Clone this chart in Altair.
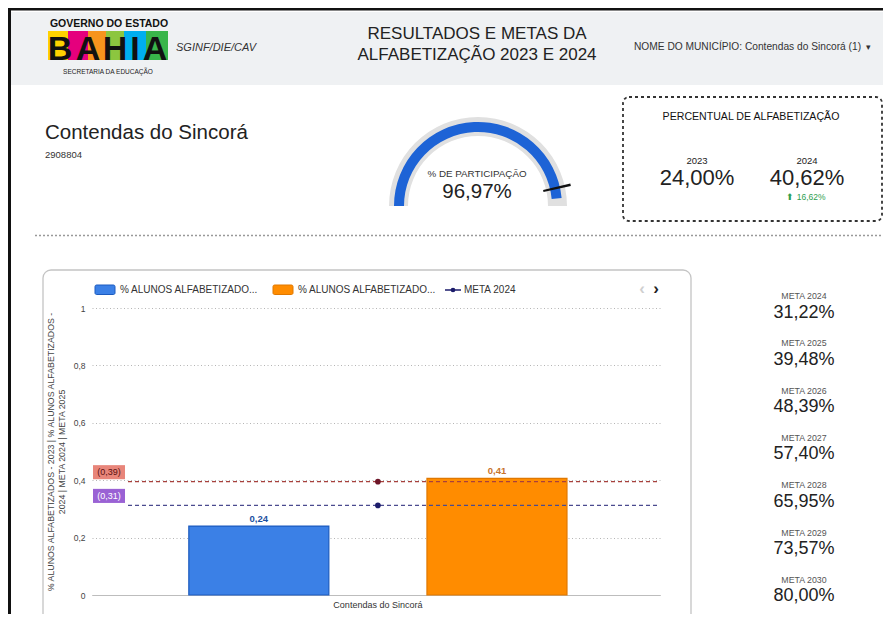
import altair as alt
import pandas as pd

FONT = "Liberation Sans"

# ---------------- data ----------------
municipio = "Contendas do Sincorá"
codigo_ibge = "2908804"
orgao = "SGINF/DIE/CAV"
titulo = ["RESULTADOS E METAS DA", "ALFABETIZAÇÃO 2023 E 2024"]
filtro = "NOME DO MUNICÍPIO: Contendas do Sincorá (1)"

series = ["% ALUNOS ALFABETIZADOS - 2023", "% ALUNOS ALFABETIZADOS - 2024"]
series_values = [0.24, 0.4062]
meta_series = ["META 2024", "META 2025"]
meta_series_values = [0.3122, 0.3948]

participacao = 96.97
participacao_marcador = 92.8

alfab_anos = ["2023", "2024"]
alfab_valores = [24.00, 40.62]

meta_anos = ["META 2024", "META 2025", "META 2026", "META 2027", "META 2028", "META 2029", "META 2030"]
meta_valores = [31.22, 39.48, 48.39, 57.40, 65.95, 73.57, 80.00]

y_ticks = [0.0, 0.1, 0.2, 0.3, 0.4, 0.5, 0.6, 0.7, 0.8, 0.9, 1.0]

# ---------------- style ----------------
BLUE, BLUE_D = "#3b80e6", "#1c5bbf"
ORANGE, ORANGE_D = "#ff8c00", "#e07800"
META_LINE = {"META 2024": "#4b4b8f", "META 2025": "#a8403c"}
META_DOT = {"META 2024": "#1c1c6b", "META 2025": "#6d1628"}
META_BOX = {"META 2024": "#9a62d4", "META 2025": "#e8857a"}
META_BOX_TXT = {"META 2024": "#ffffff", "META 2025": "#5a1010"}


def fmt(v, d=2):
    return f"{v:.{d}f}".replace(".", ",")


W, H = 568, 287
OX, OY = 92, 308


def X(p):
    return p - OX


def Y(p):
    return p - OY


one = pd.DataFrame({"k": [0]})


def txt(s, x, y, size, color="#222", weight="normal", align="center", style="normal", baseline="middle", font=FONT):
    return alt.Chart(one).mark_text(
        text=s, font=font, fontSize=size, color=color, fontWeight=weight,
        fontStyle=style, align=align, baseline=baseline
    ).encode(x=alt.value(X(x)), y=alt.value(Y(y)))


def box(x1, y1, x2, y2, fill="#ffffff", stroke=None, sw=1.0, dash=None, radius=0, filled=True):
    kw = dict(cornerRadius=radius)
    if filled:
        kw["fill"] = fill
    else:
        kw["fillOpacity"] = 0
    if stroke:
        kw["stroke"] = stroke
        kw["strokeWidth"] = sw
    if dash:
        kw["strokeDash"] = dash
    return alt.Chart(one).mark_rect(**kw).encode(
        x=alt.value(X(x1)), x2=alt.value(X(x2)), y=alt.value(Y(y1)), y2=alt.value(Y(y2))
    )


def hline(x1, x2, y, color, sw=1.0, dash=None):
    kw = dict(color=color, strokeWidth=sw)
    if dash:
        kw["strokeDash"] = dash
    return alt.Chart(one).mark_rule(**kw).encode(
        x=alt.value(X(x1)), x2=alt.value(X(x2)), y=alt.value(Y(y))
    )


def vline(x, y1, y2, color, sw=1.0):
    return alt.Chart(one).mark_rule(color=color, strokeWidth=sw).encode(
        x=alt.value(X(x)), y=alt.value(Y(y1)), y2=alt.value(Y(y2))
    )


layers = []

# ---------------- header ----------------
layers.append(box(10, 12, 891, 85, fill="#eff1f3"))
layers.append(hline(8, 891, 9, "#111", 3))
layers.append(vline(9.5, 8, 640, "#111", 3))

# logo
logo_cols = ["#ffd200", "#e5007d", "#f7941d", "#8cc63f", "#00aeef", "#39b54a"]
logo_x = [48, 68, 88, 106, 124, 146, 168]
for i, c in enumerate(logo_cols):
    layers.append(box(logo_x[i], 31, logo_x[i + 1], 60, fill=c))
layers.append(txt("GOVERNO DO ESTADO", 109, 23.5, 10.5, color="#111", weight="bold"))
logo_letters = ["B", "A", "H", "I", "A"]
logo_letter_x = [60, 88, 115, 135, 155]
for ch, lx in zip(logo_letters, logo_letter_x):
    layers.append(txt(ch, lx, 60, 34, color="#111", weight="bold", baseline="alphabetic"))
layers.append(txt("SECRETARIA DA EDUCAÇÃO", 108, 72, 6.5, color="#222"))
layers.append(txt(orgao, 176, 48, 11, color="#333", style="italic", align="left"))

layers.append(txt(titulo[0], 477, 34, 17, color="#222"))
layers.append(txt(titulo[1], 477, 55, 17, color="#222"))
layers.append(txt(filtro, 634, 47, 10.2, color="#333", align="left"))
layers.append(txt("▾", 868, 47, 9, color="#333"))

# ---------------- município ----------------
layers.append(txt(municipio, 45, 133, 20.5, color="#222", align="left"))
layers.append(txt(codigo_ibge, 45, 155, 9.5, color="#333", align="left"))

# ---------------- gauge ----------------
GX, GY = X(478), Y(206)
gbg = alt.Chart(one).transform_calculate(ini="-PI/2", fim="PI/2").mark_arc(
    radius=89, radius2=70, color="#e0e0e0"
).encode(theta=alt.Theta("ini:Q", scale=None), theta2=alt.Theta2("fim:Q"),
         x=alt.value(GX), y=alt.value(GY))
layers.append(gbg)
gval = alt.Chart(pd.DataFrame({"valor": [participacao]})).transform_calculate(
    ini="-PI/2", fim="-PI/2 + PI*datum.valor/100"
).mark_arc(radius=84, radius2=74, color="#1d63d6").encode(
    theta=alt.Theta("ini:Q", scale=None), theta2=alt.Theta2("fim:Q"),
    x=alt.value(GX), y=alt.value(GY))
layers.append(gval)
gmk = alt.Chart(pd.DataFrame({"valor": [participacao_marcador]})).transform_calculate(
    ini="-PI/2 + PI*datum.valor/100 - 0.014", fim="-PI/2 + PI*datum.valor/100 + 0.014"
).mark_arc(radius=95, radius2=67, color="#111").encode(
    theta=alt.Theta("ini:Q", scale=None), theta2=alt.Theta2("fim:Q"),
    x=alt.value(GX), y=alt.value(GY))
layers.append(gmk)
layers.append(txt("% DE PARTICIPAÇÃO", 477, 173.5, 9.8, color="#333"))
layers.append(txt(fmt(participacao) + "%", 477, 191.5, 20.5, color="#222"))

# ---------------- percentual card ----------------
layers.append(box(623, 97, 882, 221, stroke="#333", sw=1.8, dash=[3, 3], radius=6, filled=False))
layers.append(txt("PERCENTUAL DE ALFABETIZAÇÃO", 751, 117, 10.6, color="#111"))
for ano, val, cx in zip(alfab_anos, alfab_valores, [697, 807]):
    layers.append(txt(ano, cx, 161, 9.5, color="#222"))
    layers.append(txt(fmt(val) + "%", cx, 178, 22, color="#222"))
variacao = alfab_valores[1] - alfab_valores[0]
layers.append(txt("⬆ " + fmt(variacao) + "%", 806, 197, 8.5, color="#2e9e4f"))

layers.append(hline(35, 891, 235.5, "#999", 1.5, [2, 2]))

# ---------------- chart card ----------------
layers.append(box(43, 270, 691, 660, stroke="#c4c4c4", sw=1.3, radius=8, filled=False))

# legend
layers.append(box(95, 285, 115, 294.5, fill=BLUE, stroke=BLUE_D, sw=1, radius=1.5))
layers.append(txt(series[0][:21] + "...", 120, 290, 10, color="#333", align="left"))
layers.append(box(273, 285, 293, 294.5, fill=ORANGE, stroke=ORANGE_D, sw=1, radius=1.5))
layers.append(txt(series[1][:21] + "...", 298, 290, 10, color="#333", align="left"))
layers.append(hline(445, 461, 290, META_DOT["META 2024"], 1.5))
layers.append(alt.Chart(one).mark_circle(size=22, opacity=1, color=META_DOT["META 2024"]).encode(
    x=alt.value(X(453)), y=alt.value(Y(290))))
layers.append(txt(meta_series[0], 464, 290, 10, color="#333", align="left"))
layers.append(txt("‹", 642, 289, 17, color="#cfcfcf", weight="bold"))
layers.append(txt("›", 656, 289, 17, color="#222", weight="bold"))

# metas column
for i, (rot, val) in enumerate(zip(meta_anos, meta_valores)):
    yl = 296 + i * 47.3
    layers.append(txt(rot, 804, yl, 8.8, color="#555"))
    layers.append(txt(fmt(val) + "%", 804, yl + 16.5, 18, color="#222"))

# ---------------- bar chart ----------------
bars_df = pd.DataFrame({
    "municipio": [municipio] * 2,
    "serie": series,
    "valor": series_values,
    "rotulo": [fmt(v) for v in series_values],
    "cor_rotulo": ["#1a4fa0", "#c8742a"],
})

x_enc = alt.X("municipio:N", scale=alt.Scale(paddingInner=0, paddingOuter=0.251, align=0.51),
              axis=alt.Axis(title=None, labelAngle=0, ticks=False, domainColor="#bdbdbd",
                            labelFontSize=9, labelColor="#333", labelPadding=5, grid=False,
                            labelFont=FONT))
xo_enc = alt.XOffset("serie:N", scale=alt.Scale(paddingInner=0.412, paddingOuter=0), sort=series)
label_expr = ("round(datum.value*10) % 2 == 0 ? "
              "replace(format(datum.value, '.1~f'), '.', ',') : ''")
y_enc = alt.Y("valor:Q", scale=alt.Scale(domain=[0, 1], nice=False),
              axis=alt.Axis(values=y_ticks, labelExpr=label_expr, grid=True, gridDash=[1, 2.5],
                            gridColor="#b5b5b5", gridWidth=1, domain=False, ticks=False,
                            labelFontSize=8.5, labelColor="#444", labelPadding=7, labelFont=FONT,
                            title=["% ALUNOS ALFABETIZADOS - 2023 | % ALUNOS ALFABETIZADOS -",
                                   "2024 | META 2024 | META 2025"],
                            titleFontSize=8.8, titleFontWeight="normal", titleColor="#444",
                            titleFont=FONT, titlePadding=7, titleLineHeight=10.5))

bars = alt.Chart(bars_df).mark_bar(strokeWidth=1.2).encode(
    x=x_enc, xOffset=xo_enc, y=y_enc,
    color=alt.Color("serie:N", scale=alt.Scale(domain=series, range=[BLUE, ORANGE]), legend=None),
    stroke=alt.Stroke("serie:N", scale=alt.Scale(domain=series, range=[BLUE_D, ORANGE_D]), legend=None),
)
bar_labels = alt.Chart(bars_df).mark_text(
    baseline="bottom", dy=-2, fontSize=9.5, fontWeight="bold", font=FONT
).encode(
    x="municipio:N", xOffset=alt.XOffset("serie:N", sort=series), y="valor:Q",
    text="rotulo:N", color=alt.Color("cor_rotulo:N", scale=None)
)

meta_df = pd.DataFrame({
    "municipio": [municipio] * 2,
    "meta": meta_series,
    "valor": meta_series_values,
    "linha": [META_LINE[m] for m in meta_series],
    "ponto": [META_DOT[m] for m in meta_series],
    "caixa": [META_BOX[m] for m in meta_series],
    "caixa_txt": [META_BOX_TXT[m] for m in meta_series],
    "rotulo": ["(" + fmt(v) + ")" for v in meta_series_values],
})

meta_rules = alt.Chart(meta_df).mark_rule(strokeDash=[4, 3], strokeWidth=1.3).encode(
    y="valor:Q", x=alt.value(36), x2=alt.value(W), color=alt.Color("linha:N", scale=None)
)
meta_boxes = alt.Chart(meta_df).mark_point(
    shape="M-1,-0.44L1,-0.44L1,0.44L-1,0.44Z", filled=True, size=1024, opacity=1, yOffset=-9.5
).encode(x=alt.value(X(109)), y="valor:Q", color=alt.Color("caixa:N", scale=None))
meta_box_txt = alt.Chart(meta_df).mark_text(fontSize=9, font=FONT, dy=-9.5).encode(
    x=alt.value(X(109)), y="valor:Q", text="rotulo:N", color=alt.Color("caixa_txt:N", scale=None)
)
meta_dots = alt.Chart(meta_df).mark_circle(size=32, opacity=1).encode(
    x="municipio:N", y="valor:Q", color=alt.Color("ponto:N", scale=None)
)

layers += [bars, bar_labels, meta_rules, meta_dots, meta_boxes, meta_box_txt]

chart = alt.layer(*layers).properties(
    width=W, height=H,
    padding={"left": 84, "top": 300, "right": 223, "bottom": 19},
    autosize=alt.AutoSizeParams(type="none"),
    background="white",
).configure_view(stroke=None)

chart.save("out.html", embed_options={"renderer": "svg", "actions": False})
